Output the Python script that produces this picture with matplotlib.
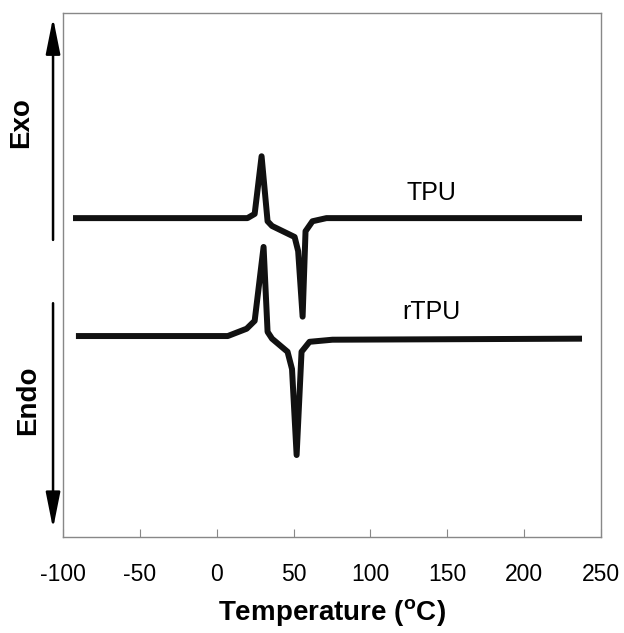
import matplotlib
matplotlib.use("Agg")
import matplotlib.pyplot as plt

plt.rcParams['font.family'] = ['Liberation Sans', 'DejaVu Sans']

# DSC curves (temperature in degC, heat flow in arbitrary units, offset)
tpu_temp = [-93.5, 20.0, 24.7, 29.2, 33.1, 36.0, 50.7, 53.0, 55.9, 57.8, 62.3, 71.4, 237.7]
tpu_flow = [60.8, 60.8, 61.6, 72.6, 60.2, 59.3, 57.2, 54.5, 42.0, 58.3, 60.2, 60.8, 60.8]

rtpu_temp = [-91.6, 7.2, 19.5, 24.7, 30.5, 33.1, 36.0, 46.1, 49.0, 52.0, 55.2, 60.4, 75.3, 237.7]
rtpu_flow = [38.3, 38.3, 39.7, 41.2, 55.3, 39.1, 37.8, 35.3, 32.0, 15.6, 35.3, 37.2, 37.6, 37.8]

xticks = [-100, -50, 0, 50, 100, 150, 200, 250]

fig = plt.figure(figsize=(6.24, 6.33), dpi=100)
ax = fig.add_axes([0.101, 0.152, 0.862, 0.828])

ax.plot(tpu_temp, tpu_flow, color='#111111', lw=4.3, solid_joinstyle='round', solid_capstyle='butt')
ax.plot(rtpu_temp, rtpu_flow, color='#111111', lw=4.3, solid_joinstyle='round', solid_capstyle='butt')

ax.text(140, 65.6, 'TPU', fontsize=18, ha='center', va='center')
ax.text(140, 42.9, 'rTPU', fontsize=18, ha='center', va='center')

ax.set_xlim(-100, 250)
ax.set_ylim(0, 100)
ax.set_xticks(xticks)
ax.set_xticklabels([str(t) for t in xticks], fontsize=16.5)
ax.set_yticks([])
ax.tick_params(axis='x', direction='in', length=6, color='#888888', pad=19)
for sp in ax.spines.values():
    sp.set_color('#888888')
    sp.set_linewidth(1.0)
ax.set_xlabel('Temperature ($^\\mathregular{o}$C)', fontsize=20, fontweight='bold', labelpad=8)

# Exo / Endo arrows outside the axes
arrow = dict(arrowstyle='-|>,head_width=0.22,head_length=1.1', lw=1.8, color='k',
             shrinkA=0, shrinkB=0, mutation_scale=20)
ax.annotate('', xy=(0.085, 0.972), xytext=(0.085, 0.621), xycoords='figure fraction',
            textcoords='figure fraction', arrowprops=arrow)
ax.annotate('', xy=(0.085, 0.165), xytext=(0.085, 0.521), xycoords='figure fraction',
            textcoords='figure fraction', arrowprops=arrow)
fig.text(0.034, 0.806, 'Exo', rotation=90, fontsize=20, fontweight='bold', ha='center', va='center')
fig.text(0.045, 0.368, 'Endo', rotation=90, fontsize=20, fontweight='bold', ha='center', va='center')

fig.savefig('out.png', dpi=100)
